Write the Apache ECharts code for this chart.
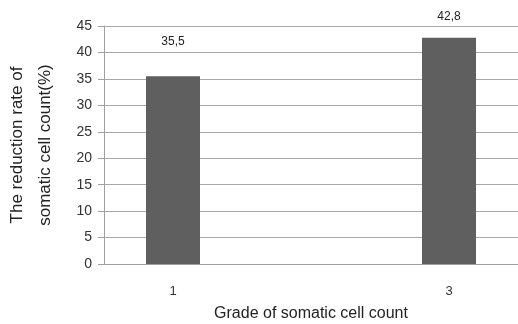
<!DOCTYPE html>
<html>
<head>
<meta charset="utf-8">
<script src="https://cdn.jsdelivr.net/npm/echarts@6/dist/echarts.min.js"></script>
<style>html,body{margin:0;padding:0;background:#fff;}#c{width:518px;height:324px;}</style>
</head>
<body>
<div id="c"></div>
<script>
var categories = ['1', '', '3'];
var values = [35.5, null, 42.8];
var yTicks = [0, 5, 10, 15, 20, 25, 30, 35, 40, 45];

var labelDistances = [29, 0, 15];

var chart = echarts.init(document.getElementById('c'), null, {renderer: 'canvas'});
chart.setOption({
  animation: false,
  backgroundColor: '#fff',
  grid: {left: 104, right: 0, top: 26, bottom: 60, containLabel: false, outerBoundsMode: 'none'},
  xAxis: {
    type: 'category',
    data: categories,
    axisLine: {show: true, lineStyle: {color: '#a0a0a0', width: 1}},
    axisTick: {show: false},
    axisLabel: {color: '#333', fontFamily: 'Liberation Sans, Arial, sans-serif', fontSize: 13, margin: 21},
    name: 'Grade of somatic cell count',
    nameLocation: 'middle',
    nameGap: 42,
    nameTextStyle: {color: '#222', fontFamily: 'Liberation Sans, Arial, sans-serif', fontSize: 16}
  },
  yAxis: {
    type: 'value',
    min: yTicks[0],
    max: yTicks[yTicks.length - 1],
    interval: 5,
    axisLine: {show: true, lineStyle: {color: '#a0a0a0', width: 1}},
    axisTick: {show: true, length: 6, lineStyle: {color: '#a0a0a0'}},
    splitLine: {show: true, lineStyle: {color: '#a8a8a8', width: 1}},
    axisLabel: {color: '#333', fontFamily: 'Liberation Sans, Arial, sans-serif', fontSize: 14, margin: 12},
    name: 'The reduction rate of\nsomatic cell count(%)',
    nameLocation: 'middle',
    nameGap: 45,
    nameRotate: 90,
    nameTextStyle: {color: '#222', fontFamily: 'Liberation Sans, Arial, sans-serif', fontSize: 17, lineHeight: 28}
  },
  series: [{
    type: 'bar',
    barWidth: 54,
    itemStyle: {color: '#5f5f5f'},
    data: values.map(function (v, i) {
      return {
        value: v,
        label: {
          show: v != null,
          position: 'top',
          distance: labelDistances[i],
          color: '#222',
          fontFamily: 'Liberation Sans, Arial, sans-serif',
          fontSize: 12,
          formatter: function (p) { return String(p.value).replace('.', ','); }
        }
      };
    })
  }]
});
</script>
</body>
</html>
